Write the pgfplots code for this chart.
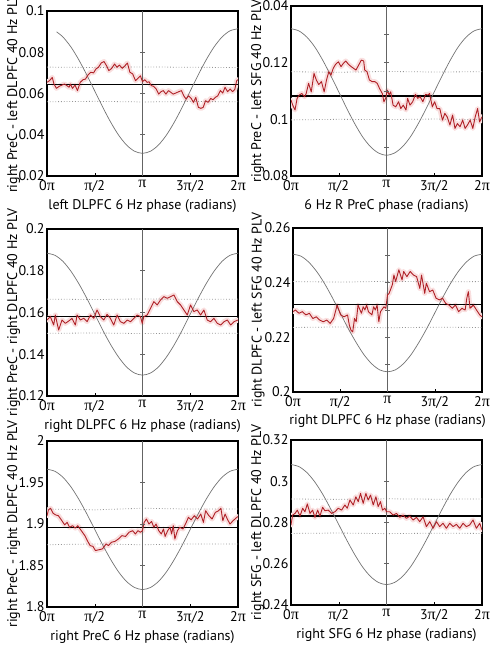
\documentclass[border=0pt]{standalone}
\usepackage{pgfplots}
\pgfplotsset{compat=1.18}
\usepackage{fontspec}
\setmainfont{PT Sans}
\newfontfamily\pifont{Liberation Serif}
\newcommand{\PI}{{\pifont\fontsize{16}{16}\selectfont π}}
\definecolor{redl}{RGB}{175,32,38}
\definecolor{pinkb}{RGB}{249,222,222}
\definecolor{cosg}{RGB}{115,115,115}
\definecolor{vg}{RGB}{100,100,100}
\definecolor{dotg}{RGB}{150,150,150}
\pgfplotsset{
  panel/.style={
    scale only axis, xmin=0, xmax=2,
    axis line style={line width=1.2pt, black},
    xtick={0,0.5,1,1.5,2},
    xticklabels={0\PI,\PI/2,\PI,3\PI/2,2\PI},
    tick align=inside, xtick pos=lower, ytick pos=left,
    major tick length=3pt,
    ytick style={draw=none},
    xtick style={black, line width=0.5pt},
    tick label style={font=\fontsize{14}{16}\selectfont, text=black},
    label style={font=\fontsize{14}{16}\selectfont, text=black},
    xticklabel style={yshift=-1pt},
    yticklabel style={xshift=1pt},
    xlabel style={at={(axis description cs:0.5,-0.18)}, anchor=center},
    ylabel style={at={(axis description cs:-0.175,0.5)}, anchor=center},
    clip=true,
  },
  band/.style={pinkb, line width=5pt, line join=round, line cap=round},
  redline/.style={redl, line width=0.9pt, line join=round},
  cosl/.style={cosg, line width=0.7pt, smooth},
  vline/.style={vg, line width=1.1pt},
  vmarks/.style={only marks, mark=-, mark size=2.5pt, vg, mark options={line width=0.6pt}},
  meanl/.style={black, line width=1.4pt},
  dotl/.style={dotg, dotted, line width=0.8pt},
}
\begin{document}
\begin{tikzpicture}
\path[use as bounding box] (0pt,0pt) rectangle (496pt,650pt);

% ---------------- Panel 1 ----------------
\begin{axis}[panel, at={(47pt,474pt)}, anchor=south west, width=191pt, height=165pt,
  ymin=0.02, ymax=0.1, ytick={0.02,0.04,0.06,0.08,0.1},
  yticklabels={0.02,0.04,0.06,0.08,0.1},
  xlabel={left DLPFC 6 Hz phase (radians)},
  ylabel={right PreC - left DLPFC 40 Hz PLV}]
\def\pdata{(0,0.0654) (0.026,0.0662) (0.055,0.0678) (0.073,0.0646) (0.099,0.0625) (0.128,0.0635) (0.158,0.0641) (0.183,0.0646) (0.209,0.0638) (0.231,0.0630) (0.245,0.0646) (0.267,0.0625) (0.293,0.0641) (0.319,0.0614) (0.348,0.0654) (0.377,0.0667) (0.403,0.0670) (0.429,0.0690) (0.458,0.0703) (0.487,0.0700) (0.513,0.0719) (0.538,0.0727) (0.568,0.0748) (0.597,0.0755) (0.623,0.0735) (0.648,0.0711) (0.678,0.0722) (0.707,0.0743) (0.733,0.0727) (0.758,0.0738) (0.788,0.0722) (0.817,0.0735) (0.842,0.0748) (0.868,0.0703) (0.897,0.0695) (0.927,0.0662) (0.952,0.0674) (0.978,0.0686) (1.0,0.0657) (1.024,0.0667) (1.048,0.0654) (1.068,0.0657) (1.092,0.0638) (1.116,0.0635) (1.143,0.0622) (1.170,0.0597) (1.194,0.0609) (1.218,0.0614) (1.245,0.0597) (1.272,0.0614) (1.296,0.0606) (1.320,0.0597) (1.347,0.0602) (1.381,0.0609) (1.408,0.0614) (1.432,0.0589) (1.456,0.0573) (1.483,0.0589) (1.510,0.0576) (1.534,0.0557) (1.558,0.0581) (1.585,0.0533) (1.612,0.0528) (1.636,0.0533) (1.660,0.0565) (1.687,0.0557) (1.714,0.0576) (1.738,0.0570) (1.762,0.0581) (1.789,0.0589) (1.816,0.0614) (1.840,0.0602) (1.864,0.0630) (1.891,0.0609) (1.918,0.0622) (1.942,0.0609) (1.966,0.0619) (1.986,0.0662) (2.0,0.0667)}
\addplot[band] coordinates {\pdata};
\addplot[dotl] coordinates {(0,0.0728) (0.5,0.0726) (1,0.0729) (1.5,0.0727) (2,0.0726)};
\addplot[dotl] coordinates {(0,0.0560) (0.5,0.0562) (1,0.0559) (1.5,0.0561) (2,0.0560)};
\addplot[meanl] coordinates {(0,0.0645) (2,0.0645)};
\addplot[cosl] coordinates {(0.1,0.0899) (0.1667,0.0874) (0.25,0.0826) (0.3333,0.0763) (0.4167,0.0690) (0.5,0.0612) (0.5833,0.0534) (0.6667,0.0461) (0.75,0.0398) (0.8333,0.0350) (0.9167,0.0320) (1,0.0310) (1.0833,0.0320) (1.1667,0.0350) (1.25,0.0398) (1.3333,0.0461) (1.4167,0.0534) (1.5,0.0612) (1.5833,0.0690) (1.6667,0.0763) (1.75,0.0826) (1.8333,0.0874) (1.9167,0.0904) (2,0.0914)};
\addplot[vline] coordinates {(1,0.02) (1,0.1)};
\addplot[vmarks] coordinates {(1,0.04) (1,0.06) (1,0.08)};
\addplot[redline] coordinates {\pdata};
\end{axis}

% ---------------- Panel 2 ----------------
\begin{axis}[panel, at={(291pt,474pt)}, anchor=south west, width=191pt, height=170pt,
  ymin=0.08, ymax=0.14, ytick={0.08,0.1,0.12,0.14},
  yticklabels={0.08,0.1,0.12,0.04},
  xlabel style={at={(axis description cs:0.5,-0.175)}},
  xlabel={6 Hz R PreC phase (radians)},
  ylabel={right PreC - left SFG 40 Hz PLV}]
\def\pdata{(0,0.1068) (0.018,0.1050) (0.042,0.1033) (0.064,0.1074) (0.088,0.1086) (0.113,0.1091) (0.142,0.1080) (0.159,0.1091) (0.184,0.1127) (0.212,0.1097) (0.241,0.1162) (0.265,0.1139) (0.290,0.1123) (0.319,0.1133) (0.347,0.1097) (0.372,0.1139) (0.396,0.1168) (0.418,0.1156) (0.442,0.1180) (0.467,0.1194) (0.496,0.1203) (0.524,0.1186) (0.549,0.1198) (0.573,0.1206) (0.602,0.1194) (0.630,0.1186) (0.655,0.1180) (0.680,0.1174) (0.708,0.1191) (0.736,0.1209) (0.761,0.1206) (0.772,0.1174) (0.796,0.1168) (0.821,0.1139) (0.850,0.1133) (0.878,0.1133) (0.903,0.1127) (0.927,0.1109) (0.956,0.1091) (0.973,0.1062) (0.991,0.1074) (1.009,0.1103) (1.027,0.1086) (1.044,0.1097) (1.069,0.1050) (1.097,0.1044) (1.126,0.1062) (1.150,0.1038) (1.175,0.1050) (1.204,0.1033) (1.221,0.1074) (1.246,0.1050) (1.274,0.1062) (1.303,0.1088) (1.327,0.1074) (1.352,0.1080) (1.381,0.1062) (1.409,0.1088) (1.434,0.1086) (1.451,0.1091) (1.480,0.1044) (1.504,0.1062) (1.529,0.1038) (1.558,0.1038) (1.586,0.0997) (1.611,0.1021) (1.635,0.1009) (1.664,0.0980) (1.692,0.1015) (1.717,0.0968) (1.742,0.0985) (1.770,0.0974) (1.798,0.0997) (1.823,0.0968) (1.848,0.0980) (1.876,0.0997) (1.904,0.0968) (1.929,0.1009) (1.954,0.1038) (1.975,0.0991) (2.0,0.1009)}
\addplot[band] coordinates {\pdata};
\addplot[dotl] coordinates {(0,0.1168) (0.5,0.1166) (1,0.1169) (1.5,0.1167) (2,0.1168)};
\addplot[dotl] coordinates {(0,0.0998) (0.5,0.1000) (1,0.0999) (1.5,0.1001) (2,0.0999)};
\addplot[meanl] coordinates {(0,0.1082) (2,0.1082)};
\addplot[cosl] coordinates {(0,0.1320) (0.0833,0.1312) (0.1667,0.1290) (0.25,0.1255) (0.3333,0.1208) (0.4167,0.1154) (0.5,0.1097) (0.5833,0.1039) (0.6667,0.0985) (0.75,0.0938) (0.8333,0.0903) (0.9167,0.0881) (1,0.0873) (1.0833,0.0881) (1.1667,0.0903) (1.25,0.0938) (1.3333,0.0985) (1.4167,0.1039) (1.5,0.1097) (1.5833,0.1154) (1.6667,0.1208) (1.75,0.1255) (1.8333,0.1290) (1.9167,0.1312) (2,0.1320)};
\addplot[vline] coordinates {(1,0.08) (1,0.14)};
\addplot[vmarks] coordinates {(1,0.09) (1,0.1) (1,0.11) (1,0.12) (1,0.13)};
\addplot[redline] coordinates {\pdata};
\end{axis}

% ---------------- Panel 3 ----------------
\begin{axis}[panel, at={(47pt,254pt)}, anchor=south west, width=191pt, height=167pt,
  ymin=0.12, ymax=0.2, ytick={0.12,0.14,0.16,0.18,0.2},
  yticklabels={0.12,0.14,0.16,0.18,0.2},
  xlabel={right DLPFC 6 Hz phase (radians)},
  ylabel={right PreC - right DLPFC 40 Hz PLV}]
\def\pdata{(0,0.1564) (0.035,0.1580) (0.070,0.1540) (0.087,0.1588) (0.122,0.1516) (0.157,0.1564) (0.192,0.1548) (0.227,0.1559) (0.262,0.1572) (0.297,0.1540) (0.315,0.1588) (0.350,0.1564) (0.385,0.1572) (0.420,0.1556) (0.455,0.1588) (0.490,0.1572) (0.524,0.1612) (0.559,0.1580) (0.594,0.1564) (0.629,0.1591) (0.664,0.1572) (0.699,0.1540) (0.734,0.1588) (0.769,0.1556) (0.804,0.1548) (0.839,0.1564) (0.874,0.1556) (0.909,0.1572) (0.944,0.1588) (0.979,0.1580) (0.997,0.1548) (1.014,0.1580) (1.049,0.1588) (1.084,0.1620) (1.119,0.1652) (1.154,0.1636) (1.189,0.1660) (1.224,0.1676) (1.259,0.1668) (1.294,0.1676) (1.329,0.1684) (1.364,0.1652) (1.399,0.1636) (1.434,0.1612) (1.469,0.1588) (1.503,0.1636) (1.538,0.1604) (1.573,0.1612) (1.608,0.1588) (1.643,0.1612) (1.678,0.1564) (1.713,0.1556) (1.748,0.1572) (1.783,0.1548) (1.818,0.1540) (1.853,0.1556) (1.888,0.1564) (1.923,0.1540) (1.958,0.1556) (2.0,0.1564)}
\addplot[band] coordinates {\pdata};
\addplot[dotl] coordinates {(0,0.1664) (0.5,0.1662) (1,0.1665) (1.5,0.1663) (2,0.1664)};
\addplot[dotl] coordinates {(0,0.1500) (0.5,0.1502) (1,0.1499) (1.5,0.1501) (2,0.1500)};
\addplot[meanl] coordinates {(0,0.1580) (2,0.1580)};
\addplot[cosl] coordinates {(0,0.1884) (0.0833,0.1874) (0.1667,0.1845) (0.25,0.1798) (0.3333,0.1738) (0.4167,0.1668) (0.5,0.1592) (0.5833,0.1516) (0.6667,0.1446) (0.75,0.1386) (0.8333,0.1339) (0.9167,0.1310) (1,0.1300) (1.0833,0.1310) (1.1667,0.1339) (1.25,0.1386) (1.3333,0.1446) (1.4167,0.1516) (1.5,0.1592) (1.5833,0.1668) (1.6667,0.1738) (1.75,0.1798) (1.8333,0.1845) (1.9167,0.1874) (2,0.1884)};
\addplot[vline] coordinates {(1,0.12) (1,0.2)};
\addplot[vmarks] coordinates {(1,0.14) (1,0.16) (1,0.18)};
\addplot[redline] coordinates {\pdata};
\end{axis}

% ---------------- Panel 4 ----------------
\begin{axis}[panel, at={(293pt,258pt)}, anchor=south west, width=189pt, height=164pt,
  ymin=0.2, ymax=0.26, ytick={0.2,0.22,0.24,0.26},
  yticklabels={0.2,0.22,0.24,0.26},
  ylabel style={at={(axis description cs:-0.185,0.5)}},
  xlabel={right DLPFC 6 Hz phase (radians)},
  ylabel={right DLPFC - left SFG 40 Hz PLV}]
\def\pdata{(0,0.2294) (0.026,0.2300) (0.063,0.2288) (0.099,0.2294) (0.136,0.2282) (0.173,0.2288) (0.210,0.2269) (0.246,0.2275) (0.283,0.2263) (0.320,0.2257) (0.357,0.2263) (0.393,0.2251) (0.430,0.2269) (0.467,0.2318) (0.504,0.2282) (0.540,0.2275) (0.577,0.2282) (0.596,0.2245) (0.614,0.2226) (0.632,0.2220) (0.651,0.2269) (0.669,0.2257) (0.688,0.2318) (0.724,0.2288) (0.743,0.2312) (0.761,0.2300) (0.779,0.2318) (0.798,0.2294) (0.835,0.2282) (0.853,0.2312) (0.871,0.2300) (0.890,0.2318) (0.908,0.2257) (0.926,0.2294) (0.963,0.2312) (0.982,0.2306) (1.0,0.2355) (1.017,0.2361) (1.051,0.2392) (1.068,0.2428) (1.086,0.2404) (1.120,0.2447) (1.154,0.2410) (1.171,0.2441) (1.205,0.2422) (1.240,0.2441) (1.274,0.2428) (1.308,0.2422) (1.342,0.2379) (1.360,0.2428) (1.394,0.2361) (1.411,0.2398) (1.445,0.2367) (1.479,0.2373) (1.514,0.2343) (1.548,0.2337) (1.582,0.2343) (1.616,0.2324) (1.651,0.2318) (1.685,0.2306) (1.719,0.2318) (1.753,0.2294) (1.788,0.2306) (1.822,0.2300) (1.839,0.2343) (1.856,0.2367) (1.873,0.2306) (1.908,0.2318) (1.942,0.2300) (1.976,0.2282) (2.0,0.2275)}
\addplot[band] coordinates {\pdata};
\addplot[dotl] coordinates {(0,0.2404) (0.5,0.2402) (1,0.2405) (1.5,0.2403) (2,0.2404)};
\addplot[dotl] coordinates {(0,0.2236) (0.5,0.2238) (1,0.2235) (1.5,0.2237) (2,0.2236)};
\addplot[meanl] coordinates {(0,0.2321) (2,0.2321)};
\addplot[cosl] coordinates {(0,0.2504) (0.0833,0.2497) (0.1667,0.2475) (0.25,0.2441) (0.3333,0.2397) (0.4167,0.2345) (0.5,0.2289) (0.5833,0.2233) (0.6667,0.2182) (0.75,0.2137) (0.8333,0.2103) (0.9167,0.2081) (1,0.2074) (1.0833,0.2081) (1.1667,0.2103) (1.25,0.2137) (1.3333,0.2182) (1.4167,0.2233) (1.5,0.2289) (1.5833,0.2345) (1.6667,0.2397) (1.75,0.2441) (1.8333,0.2475) (1.9167,0.2497) (2,0.2504)};
\addplot[vline] coordinates {(1,0.2) (1,0.26)};
\addplot[vmarks] coordinates {(1,0.21) (1,0.22) (1,0.23) (1,0.24) (1,0.25)};
\addplot[redline] coordinates {\pdata};
\end{axis}

% ---------------- Panel 5 ----------------
\begin{axis}[panel, at={(47pt,43pt)}, anchor=south west, width=191pt, height=166pt,
  ymin=1.8, ymax=2, ytick={1.8,1.85,1.9,1.95,2},
  yticklabels={1.8,1.85,1.9,1.95,2},
  xlabel={right PreC 6 Hz phase (radians)},
  ylabel={right PreC - right DLPFC 40 Hz PLV}]
\def\pdata{(0,1.910) (0.015,1.917) (0.037,1.919) (0.063,1.913) (0.089,1.911) (0.119,1.910) (0.156,1.904) (0.185,1.899) (0.211,1.902) (0.237,1.896) (0.267,1.898) (0.296,1.895) (0.322,1.898) (0.359,1.892) (0.396,1.886) (0.422,1.880) (0.452,1.874) (0.481,1.873) (0.507,1.868) (0.544,1.869) (0.581,1.870) (0.619,1.876) (0.644,1.874) (0.674,1.878) (0.711,1.879) (0.748,1.882) (0.785,1.886) (0.822,1.885) (0.859,1.890) (0.896,1.892) (0.926,1.888) (0.952,1.892) (0.978,1.890) (1.0,1.892) (1.017,1.902) (1.041,1.906) (1.068,1.900) (1.095,1.903) (1.119,1.896) (1.142,1.900) (1.170,1.892) (1.197,1.888) (1.220,1.894) (1.237,1.885) (1.264,1.892) (1.288,1.896) (1.305,1.888) (1.322,1.898) (1.339,1.882) (1.366,1.892) (1.390,1.896) (1.424,1.894) (1.458,1.902) (1.481,1.908) (1.509,1.905) (1.543,1.910) (1.576,1.906) (1.610,1.912) (1.638,1.902) (1.661,1.916) (1.695,1.910) (1.729,1.906) (1.763,1.914) (1.797,1.916) (1.821,1.919) (1.841,1.904) (1.865,1.912) (1.888,1.906) (1.916,1.900) (1.949,1.904) (1.977,1.907) (2.0,1.909)}
\addplot[band] coordinates {\pdata};
\addplot[dotl] coordinates {(0,1.918) (0.5,1.917) (1,1.919) (1.5,1.918) (2,1.918)};
\addplot[dotl] coordinates {(0,1.875) (0.5,1.876) (1,1.875) (1.5,1.876) (2,1.876)};
\addplot[meanl] coordinates {(0,1.896) (2,1.896)};
\addplot[cosl] coordinates {(0,1.9660) (0.0833,1.9635) (0.1667,1.9563) (0.25,1.9448) (0.3333,1.9298) (0.4167,1.9123) (0.5,1.8935) (0.5833,1.8747) (0.6667,1.8573) (0.75,1.8422) (0.8333,1.8307) (0.9167,1.8235) (1,1.8210) (1.0833,1.8235) (1.1667,1.8307) (1.25,1.8422) (1.3333,1.8573) (1.4167,1.8747) (1.5,1.8935) (1.5833,1.9123) (1.6667,1.9298) (1.75,1.9448) (1.8333,1.9563) (1.9167,1.9635) (2,1.9660)};
\addplot[vline] coordinates {(1,1.8) (1,2)};
\addplot[vmarks] coordinates {(1,1.85) (1,1.9) (1,1.95)};
\addplot[redline] coordinates {\pdata};
\end{axis}

% ---------------- Panel 6 ----------------
\begin{axis}[panel, at={(291pt,45pt)}, anchor=south west, width=191pt, height=165pt,
  ymin=0.24, ymax=0.32, ytick={0.24,0.26,0.28,0.3,0.32},
  yticklabels={0.24,0.26,0.28,0.3,0.32},
  xlabel={right SFG 6 Hz phase (radians)},
  ylabel={right SFG - left DLPFC 40 Hz PLV}]
\def\pdata{(0,0.2788) (0.017,0.2836) (0.042,0.2844) (0.066,0.2860) (0.094,0.2831) (0.122,0.2869) (0.146,0.2852) (0.171,0.2890) (0.199,0.2844) (0.226,0.2860) (0.251,0.2825) (0.279,0.2860) (0.303,0.2831) (0.331,0.2874) (0.355,0.2857) (0.390,0.2860) (0.425,0.2844) (0.460,0.2852) (0.495,0.2869) (0.530,0.2860) (0.564,0.2885) (0.589,0.2869) (0.617,0.2909) (0.652,0.2885) (0.679,0.2925) (0.704,0.2901) (0.728,0.2941) (0.756,0.2893) (0.784,0.2941) (0.808,0.2909) (0.833,0.2933) (0.861,0.2885) (0.889,0.2925) (0.913,0.2877) (0.937,0.2901) (0.958,0.2860) (0.983,0.2869) (1.0,0.2852) (1.035,0.2852) (1.070,0.2836) (1.105,0.2844) (1.139,0.2825) (1.174,0.2836) (1.209,0.2820) (1.244,0.2831) (1.279,0.2812) (1.314,0.2825) (1.348,0.2804) (1.383,0.2828) (1.418,0.2780) (1.453,0.2804) (1.488,0.2772) (1.523,0.2804) (1.557,0.2780) (1.592,0.2796) (1.627,0.2772) (1.662,0.2796) (1.697,0.2780) (1.732,0.2791) (1.767,0.2772) (1.801,0.2796) (1.836,0.2780) (1.871,0.2788) (1.906,0.2812) (1.941,0.2772) (1.976,0.2796) (2.0,0.2764)}
\addplot[band] coordinates {\pdata};
\addplot[dotl] coordinates {(0,0.2914) (0.5,0.2912) (1,0.2915) (1.5,0.2913) (2,0.2914)};
\addplot[dotl] coordinates {(0,0.2747) (0.5,0.2749) (1,0.2746) (1.5,0.2748) (2,0.2747)};
\addplot[meanl] coordinates {(0,0.2831) (2,0.2831)};
\addplot[cosl] coordinates {(0,0.3081) (0.0833,0.3071) (0.1667,0.3042) (0.25,0.2996) (0.3333,0.2936) (0.4167,0.2865) (0.5,0.2790) (0.5833,0.2715) (0.6667,0.2645) (0.75,0.2584) (0.8333,0.2538) (0.9167,0.2509) (1,0.2499) (1.0833,0.2509) (1.1667,0.2538) (1.25,0.2584) (1.3333,0.2645) (1.4167,0.2715) (1.5,0.2790) (1.5833,0.2865) (1.6667,0.2936) (1.75,0.2996) (1.8333,0.3042) (1.9167,0.3071) (2,0.3081)};
\addplot[vline] coordinates {(1,0.24) (1,0.32)};
\addplot[vmarks] coordinates {(1,0.26) (1,0.28) (1,0.3)};
\addplot[redline] coordinates {\pdata};
\end{axis}
\end{tikzpicture}
\end{document}
